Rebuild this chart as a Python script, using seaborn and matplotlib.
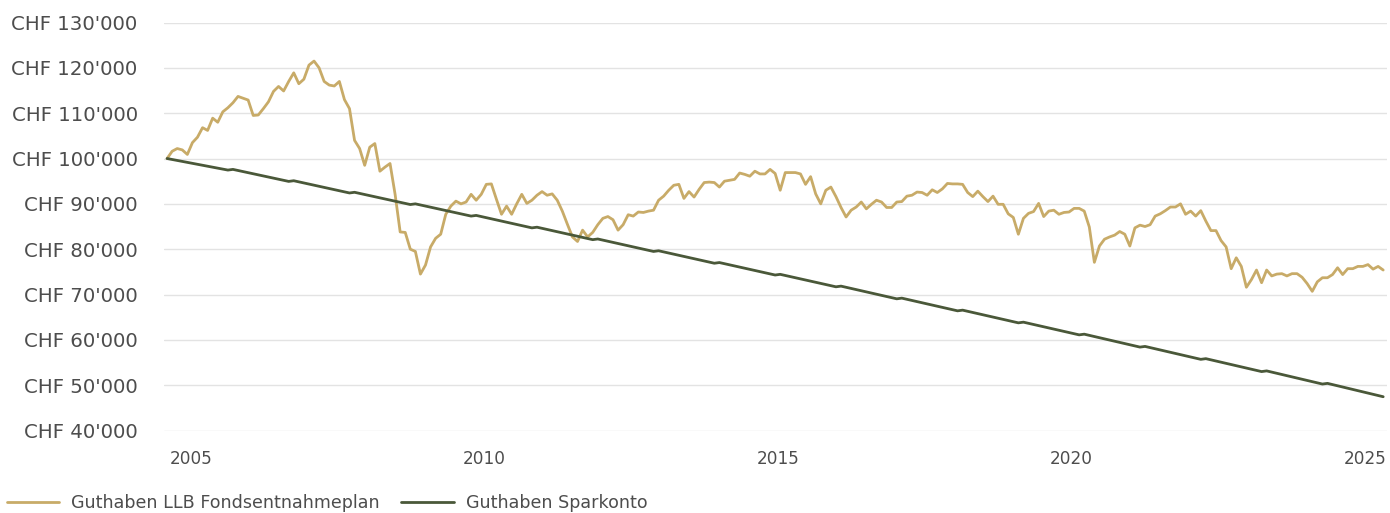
"""
Guthaben LLB Fondsentnahmeplan vs. Sparkonto, monthly values 2004-2025.
"""

import matplotlib
matplotlib.use("Agg")
import matplotlib.pyplot as plt
from matplotlib.ticker import FuncFormatter
import pandas as pd
import seaborn as sns

GOLD = "#C8AB68"
GREEN = "#4A5839"
TEXT = "#4D4D4D"

# 241 monthly observations (Aug 2004 .. Apr 2025)
dates = pd.date_range("2004-08-07", "2025-04-22", periods=241)

fondsentnahmeplan = [
    100000, 101600, 102200, 101900, 100900, 103500, 104700, 106800, 106200, 108900,
    108000, 110300, 111200, 112300, 113700, 113300, 112900, 109500, 109600, 111000,
    112500, 114800, 115900, 114900, 117000, 118900, 116500, 117500, 120600, 121500,
    120000, 117000, 116200, 116000, 117000, 113000, 111000, 104000, 102200, 98500,
    102500, 103300, 97200, 98100, 98900,
    92100, 83800, 83700, 80000, 79500, 74500, 76500, 80500, 82400, 83300,
    87700, 89500, 90600, 90000, 90400, 92100, 90800, 92100, 94300, 94400,
    91000, 87700, 89500, 87700, 90000, 92100, 90100, 90800, 91900, 92700,
    91900, 92200, 90800, 88400, 85500, 82700, 81700, 84200, 82700, 83700,
    85400, 86800, 87200, 86500, 84200, 85400, 87600,
    87300, 88200, 88100, 88400, 88600, 90800, 91700, 93000, 94100, 94300,
    91200, 92700, 91500, 93200, 94700, 94800, 94700, 93700, 95000, 95200,
    95400, 96800, 96500, 96100, 97200, 96600, 96600, 97600, 96700, 93000,
    96900, 96900, 96900, 96600, 94300, 96000, 92200, 90000, 93000, 93700,
    91600, 89200, 87100, 88600, 89300, 90400, 88900, 89900,
    90800, 90400, 89200, 89200, 90400, 90500, 91700, 91900, 92600, 92500,
    91900, 93100, 92500, 93300, 94500, 94400, 94400, 94300, 92500, 91600,
    92800, 91600, 90500, 91700, 89900, 89900, 87800, 87000, 83300, 86800,
    87900, 88300, 90100, 87200, 88400, 88600, 87700, 88100, 88200, 89000,
    89000, 88400, 84900, 77100, 80700, 82200, 82700, 83100, 83900, 83300,
    80700,
    84700, 85300, 85000, 85400, 87300, 87800, 88500, 89300, 89300, 90000,
    87700, 88400, 87300, 88500, 86200, 84100, 84100, 81900, 80500, 75700,
    78100, 76200, 71600, 73300, 75400, 72600, 75400, 74100, 74500, 74600,
    74100, 74600, 74600, 73800, 72400, 70700, 72800, 73700, 73700, 74400,
    75900, 74400, 75700, 75700, 76200, 76200, 76600, 75600, 76200, 75400,
]

# Sparkonto: straight monthly withdrawals, yearly interest credit (small kink)
spar_start = 100000
spar_end = 47450
spar_before_interest = [
    97450, 94950, 92400, 89850, 87300, 84700, 82100, 79500, 76900, 74300,
    71700, 69050, 66400, 63750, 61100, 58400, 55700, 53000, 50250,
]
spar_after_interest = [
    97600, 95100, 92550, 90000, 87450, 84850, 82250, 79650, 77050, 74450,
    71850, 69200, 66550, 63900, 61250, 58550, 55850, 53150, 50400,
]

spar_pos = [0]
spar_val = [spar_start]
for k, (lo, hi) in enumerate(zip(spar_before_interest, spar_after_interest), start=1):
    spar_pos += [12 * k, 12 * k + 1]
    spar_val += [lo, hi]
spar_pos.append(len(dates) - 1)
spar_val.append(spar_end)
spar_dates = dates[spar_pos]

sns.set_style("white")
plt.rcParams["font.family"] = ["DejaVu Sans"]

fig = plt.figure(figsize=(13.9, 5.13), dpi=100)
ax = fig.add_axes([0.118, 0.1608, 0.880, 0.7953])

sns.lineplot(x=dates, y=fondsentnahmeplan, color=GOLD, linewidth=2.0, ax=ax,
             label="Guthaben LLB Fondsentnahmeplan")
sns.lineplot(x=spar_dates, y=spar_val, color=GREEN, linewidth=2.0, ax=ax,
             label="Guthaben Sparkonto")

ax.set_ylim(40000, 130000)
ax.set_xlim(pd.Timestamp("2004-07-19"), pd.Timestamp("2025-05-17"))
ax.set_yticks(range(40000, 130001, 10000))
ax.yaxis.set_major_formatter(
    FuncFormatter(lambda v, _: "CHF " + f"{int(v):,}".replace(",", "'")))
ax.set_xticks([pd.Timestamp(f"{y}-01-01") for y in range(2005, 2026, 5)])
ax.set_xticklabels([str(y) for y in range(2005, 2026, 5)])

ax.grid(axis="y", color="#E3E3E3", linewidth=1.0)
ax.grid(axis="x", visible=False)
for s in ax.spines.values():
    s.set_visible(False)
ax.tick_params(axis="y", length=0, pad=19, labelsize=14.2, labelcolor=TEXT)
ax.tick_params(axis="x", length=0, pad=14, labelsize=12.2, labelcolor=TEXT)
ax.set_xlabel("")
ax.set_ylabel("")

handles, labels = ax.get_legend_handles_labels()
ax.get_legend().remove()
fig.legend(handles, labels, loc="center left", bbox_to_anchor=(0.001, 0.019),
           ncol=2, frameon=False, fontsize=12.6, labelcolor=TEXT,
           handlelength=3.0, handletextpad=0.7, columnspacing=1.2,
           borderpad=0.3, borderaxespad=0)

fig.savefig("out.png", dpi=100)
